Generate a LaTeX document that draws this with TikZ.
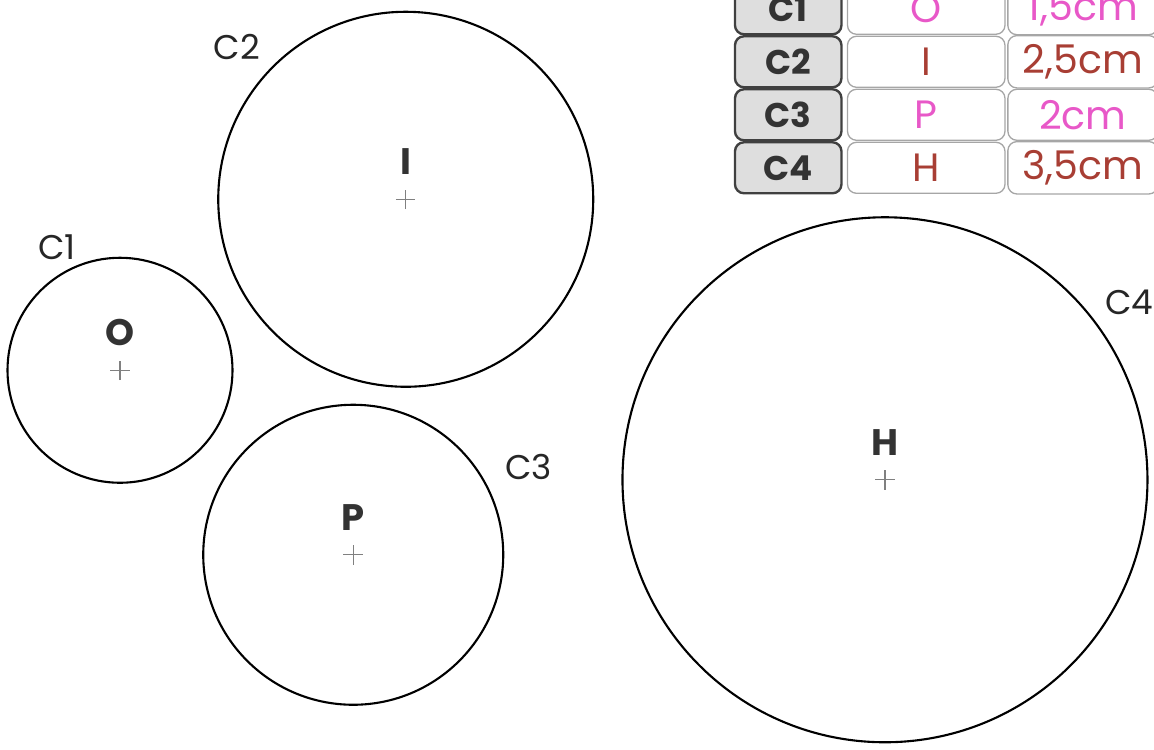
\documentclass[tikz,border=0pt]{standalone}
\usepackage{fontspec}
\setmainfont{Poppins}
\usetikzlibrary{positioning,calc}

\definecolor{pinkink}{RGB}{232,88,200}
\definecolor{brownink}{RGB}{168,62,52}
\definecolor{cellgray}{RGB}{222,222,222}

\tikzset{
  namecell/.style={draw=black!75, line width=0.9pt, fill=cellgray, rounded corners=0.12cm,
    minimum width=1.42cm, minimum height=0.68cm, font=\fontsize{13}{15}\selectfont\bfseries, text=black!80},
  inkcell/.style={draw=black!35, line width=0.5pt, rounded corners=0.12cm,
    minimum height=0.68cm, font=\fontsize{15}{17}\selectfont},
  ctrname/.style={font=\fontsize{14}{16}\selectfont\bfseries, text=black!80},
  circname/.style={font=\fontsize{13}{15}\selectfont, text=black!85},
  mark cross/.style={gray, line width=0.5pt}
}

\begin{document}
\begin{tikzpicture}[x=1cm,y=1cm]
  \useasboundingbox (0,0) rectangle (15.387,9.987);
  % centres
  \coordinate (O) at (1.60,5.05);
  \coordinate (I) at (5.41,7.33);
  \coordinate (P) at (4.71,2.59);
  \coordinate (H) at (11.80,3.59);
  % circles
  \draw[line width=0.8pt] (O) circle[radius=1.5];
  \draw[line width=0.8pt] (I) circle[radius=2.5];
  \draw[line width=0.8pt] (P) circle[radius=2];
  \draw[line width=0.8pt] (H) circle[radius=3.5];
  \foreach \c in {O,I,P,H} {
    \draw[mark cross] ($(\c)+(-0.13,0)$) -- ($(\c)+(0.13,0)$);
    \draw[mark cross] ($(\c)+(0,-0.13)$) -- ($(\c)+(0,0.13)$);
    \node[ctrname] (lbl\c) at ($(\c)+(0,0.50)$) {\c};
  }
  \node[circname] (c1) at (0.76,6.69) {C1};
  \node[circname] (c2) at (3.16,9.36) {C2};
  \node[circname] (c3) at (7.05,3.76) {C3};
  \node[circname] (c4) at (15.06,5.96) {C4};
  % table
  \foreach \k/\ctr/\rad/\ink in {1/O/{1,5cm}/pinkink,2/I/{2,5cm}/brownink,3/P/{2cm}/pinkink,4/H/{3,5cm}/brownink} {
    \node[namecell] (name\k) at (10.51,{9.87-0.7067*(\k-1)}) {C\k};
    \node[inkcell, minimum width=2.10cm, text=\ink] (ctr\k) at (12.35,{9.87-0.7067*(\k-1)}) {\ctr};
    \node[inkcell, minimum width=2.00cm, text=\ink, anchor=west] (rad\k) at (13.43,{9.87-0.7067*(\k-1)}) {\rad};
  }
\end{tikzpicture}
\end{document}
